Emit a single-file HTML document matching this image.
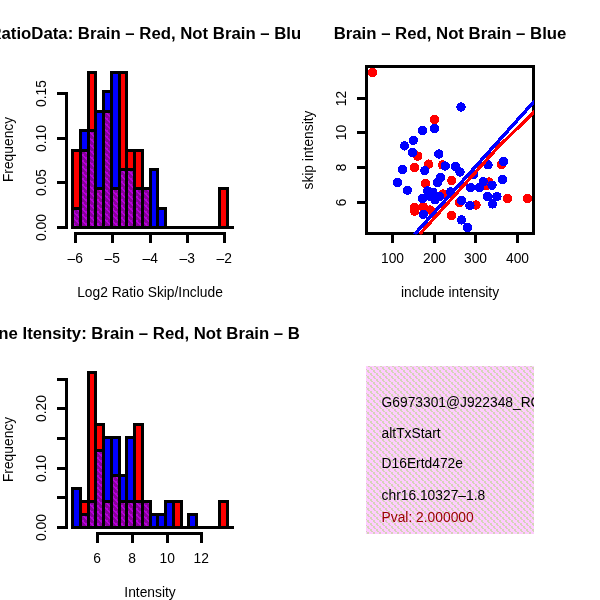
<!DOCTYPE html>
<html lang="en"><head><meta charset="utf-8"><title>Brain vs Not Brain</title>
<style>html,body{margin:0;padding:0;background:#fff;}svg{display:block;}text{font-family:"Liberation Sans", sans-serif;fill:#000;}.ax{font-size:13.8px;}.ti{font-size:16.75px;font-weight:bold;}.ln{stroke:#000;stroke-width:3;fill:none;stroke-linecap:butt;stroke-linejoin:miter;}</style></head><body>
<svg width="600" height="600" viewBox="0 0 600 600">
<defs>
<pattern id="pur" x="0" y="0" width="6" height="6" patternUnits="userSpaceOnUse"><rect width="6" height="6" fill="#88009c"/><rect x="4" y="4" width="1" height="1" fill="#b600da"/><rect x="5" y="4" width="1" height="1" fill="#b600da"/><rect x="4" y="5" width="1" height="1" fill="#b600da"/><rect x="5" y="5" width="1" height="1" fill="#b600da"/><rect x="5" y="0" width="1" height="1" fill="#b600da"/><rect x="0" y="0" width="1" height="1" fill="#b600da"/><rect x="3" y="4" width="1" height="1" fill="#b600da"/><rect x="1" y="1" width="1" height="1" fill="#b600da"/><rect x="2" y="1" width="1" height="1" fill="#b600da"/><rect x="1" y="2" width="1" height="1" fill="#b600da"/><rect x="2" y="2" width="1" height="1" fill="#b600da"/><rect x="2" y="3" width="1" height="1" fill="#b600da"/><rect x="3" y="3" width="1" height="1" fill="#b600da"/><rect x="0" y="1" width="1" height="1" fill="#b600da"/></pattern>
<pattern id="pnk" x="0" y="0" width="6" height="6" patternUnits="userSpaceOnUse"><rect width="6" height="6" fill="#ffccff"/><rect x="4" y="1" width="1" height="1" fill="#d4d4b8"/><rect x="5" y="1" width="1" height="1" fill="#d4d4b8"/><rect x="4" y="2" width="1" height="1" fill="#d4d4b8"/><rect x="5" y="2" width="1" height="1" fill="#d4d4b8"/><rect x="5" y="3" width="1" height="1" fill="#d4d4b8"/><rect x="0" y="3" width="1" height="1" fill="#d4d4b8"/><rect x="1" y="4" width="1" height="1" fill="#d4d4b8"/><rect x="2" y="4" width="1" height="1" fill="#d4d4b8"/><rect x="1" y="5" width="1" height="1" fill="#d4d4b8"/><rect x="2" y="5" width="1" height="1" fill="#d4d4b8"/><rect x="2" y="0" width="1" height="1" fill="#d4d4b8"/><rect x="3" y="0" width="1" height="1" fill="#d4d4b8"/></pattern>
<clipPath id="c1"><rect x="0" y="0" width="300" height="300"/></clipPath>
<clipPath id="c2"><rect x="300" y="0" width="300" height="300"/></clipPath>
<clipPath id="c3"><rect x="0" y="300" width="300" height="300"/></clipPath>
<clipPath id="c4"><rect x="366" y="366" width="168" height="168"/></clipPath>
<clipPath id="cs"><rect x="366" y="66" width="168" height="168.4"/></clipPath>
</defs>
<rect x="0" y="0" width="600" height="600" fill="#fff"/>
<g clip-path="url(#c1)">
<text class="ti" x="150" y="38.7" text-anchor="middle">RatioData: Brain – Red, Not Brain – Blue</text>
</g>
<g shape-rendering="crispEdges">
<line x1="71.0" y1="227.5" x2="234.0" y2="227.5" stroke="#000" stroke-width="3"/>
<rect x="72.5" y="150.5" width="8.0" height="77.0" fill="#ff0000" stroke="#000" stroke-width="3"/>
<rect x="80.5" y="150.5" width="8.0" height="77.0" fill="#ff0000" stroke="#000" stroke-width="3"/>
<rect x="88.5" y="72.5" width="7.0" height="155.0" fill="#ff0000" stroke="#000" stroke-width="3"/>
<rect x="95.5" y="188.5" width="8.0" height="39.0" fill="#ff0000" stroke="#000" stroke-width="3"/>
<rect x="103.5" y="111.5" width="8.0" height="116.0" fill="#ff0000" stroke="#000" stroke-width="3"/>
<rect x="111.5" y="188.5" width="8.0" height="39.0" fill="#ff0000" stroke="#000" stroke-width="3"/>
<rect x="119.5" y="72.5" width="7.0" height="155.0" fill="#ff0000" stroke="#000" stroke-width="3"/>
<rect x="126.5" y="150.5" width="8.0" height="77.0" fill="#ff0000" stroke="#000" stroke-width="3"/>
<rect x="134.5" y="150.5" width="8.0" height="77.0" fill="#ff0000" stroke="#000" stroke-width="3"/>
<rect x="142.5" y="188.5" width="8.0" height="39.0" fill="#ff0000" stroke="#000" stroke-width="3"/>
<rect x="219.5" y="188.5" width="8.0" height="39.0" fill="#ff0000" stroke="#000" stroke-width="3"/>
<rect x="72.5" y="208.5" width="8.0" height="19.0" fill="#0000ff" stroke="#000" stroke-width="3"/>
<rect x="80.5" y="130.5" width="8.0" height="97.0" fill="#0000ff" stroke="#000" stroke-width="3"/>
<rect x="88.5" y="130.5" width="7.0" height="97.0" fill="#0000ff" stroke="#000" stroke-width="3"/>
<rect x="95.5" y="111.5" width="8.0" height="116.0" fill="#0000ff" stroke="#000" stroke-width="3"/>
<rect x="103.5" y="91.5" width="8.0" height="136.0" fill="#0000ff" stroke="#000" stroke-width="3"/>
<rect x="111.5" y="72.5" width="8.0" height="155.0" fill="#0000ff" stroke="#000" stroke-width="3"/>
<rect x="119.5" y="169.5" width="7.0" height="58.0" fill="#0000ff" stroke="#000" stroke-width="3"/>
<rect x="126.5" y="169.5" width="8.0" height="58.0" fill="#0000ff" stroke="#000" stroke-width="3"/>
<rect x="134.5" y="188.5" width="8.0" height="39.0" fill="#0000ff" stroke="#000" stroke-width="3"/>
<rect x="142.5" y="188.5" width="8.0" height="39.0" fill="#0000ff" stroke="#000" stroke-width="3"/>
<rect x="150.5" y="169.5" width="7.0" height="58.0" fill="#0000ff" stroke="#000" stroke-width="3"/>
<rect x="157.5" y="208.5" width="8.0" height="19.0" fill="#0000ff" stroke="#000" stroke-width="3"/>
<rect x="72.5" y="208.5" width="8.0" height="19.0" fill="url(#pur)" stroke="#000" stroke-width="3"/>
<rect x="80.5" y="150.5" width="8.0" height="77.0" fill="url(#pur)" stroke="#000" stroke-width="3"/>
<rect x="88.5" y="130.5" width="7.0" height="97.0" fill="url(#pur)" stroke="#000" stroke-width="3"/>
<rect x="95.5" y="188.5" width="8.0" height="39.0" fill="url(#pur)" stroke="#000" stroke-width="3"/>
<rect x="103.5" y="111.5" width="8.0" height="116.0" fill="url(#pur)" stroke="#000" stroke-width="3"/>
<rect x="111.5" y="188.5" width="8.0" height="39.0" fill="url(#pur)" stroke="#000" stroke-width="3"/>
<rect x="119.5" y="169.5" width="7.0" height="58.0" fill="url(#pur)" stroke="#000" stroke-width="3"/>
<rect x="126.5" y="169.5" width="8.0" height="58.0" fill="url(#pur)" stroke="#000" stroke-width="3"/>
<rect x="134.5" y="188.5" width="8.0" height="39.0" fill="url(#pur)" stroke="#000" stroke-width="3"/>
<rect x="142.5" y="188.5" width="8.0" height="39.0" fill="url(#pur)" stroke="#000" stroke-width="3"/>
</g>
<path class="ln" d="M66.5,229.0 V92.0 M57,227.5 H66.5 M57,182.5 H66.5 M57,138.5 H66.5 M57,93.5 H66.5" shape-rendering="crispEdges"/>
<text class="ax" x="46" y="227.5" text-anchor="middle" transform="rotate(-90 46 227.5)">0.00</text>
<text class="ax" x="46" y="182.5" text-anchor="middle" transform="rotate(-90 46 182.5)">0.05</text>
<text class="ax" x="46" y="138.5" text-anchor="middle" transform="rotate(-90 46 138.5)">0.10</text>
<text class="ax" x="46" y="93.5" text-anchor="middle" transform="rotate(-90 46 93.5)">0.15</text>
<text class="ax" x="13.3" y="149.5" text-anchor="middle" transform="rotate(-90 13.3 149.5)">Frequency</text>
<path class="ln" d="M74.0,233.5 H226.0 M75.5,233.5 V243 M112.5,233.5 V243 M150.5,233.5 V243 M187.5,233.5 V243 M224.5,233.5 V243" shape-rendering="crispEdges"/>
<text class="ax" x="75.2" y="263" text-anchor="middle">–6</text>
<text class="ax" x="112.2" y="263" text-anchor="middle">–5</text>
<text class="ax" x="150.2" y="263" text-anchor="middle">–4</text>
<text class="ax" x="187.2" y="263" text-anchor="middle">–3</text>
<text class="ax" x="224.2" y="263" text-anchor="middle">–2</text>
<text class="ax" x="150" y="296.5" text-anchor="middle">Log2 Ratio Skip/Include</text>
<g clip-path="url(#c2)">
<text class="ti" x="450" y="38.7" text-anchor="middle">Brain – Red, Not Brain – Blue</text>
</g>
<g shape-rendering="crispEdges">
<circle cx="372.4" cy="72.4" r="4.7" fill="#ff0000"/>
<circle cx="434.5" cy="119.5" r="4.7" fill="#ff0000"/>
<circle cx="417.7" cy="156.1" r="4.7" fill="#ff0000"/>
<circle cx="414.6" cy="167.5" r="4.7" fill="#ff0000"/>
<circle cx="428.6" cy="164.1" r="4.7" fill="#ff0000"/>
<circle cx="442.5" cy="165" r="4.7" fill="#ff0000"/>
<circle cx="425.5" cy="183.4" r="4.7" fill="#ff0000"/>
<circle cx="451.8" cy="180.5" r="4.7" fill="#ff0000"/>
<circle cx="443" cy="194" r="4.7" fill="#ff0000"/>
<circle cx="414.3" cy="207.5" r="4.7" fill="#ff0000"/>
<circle cx="414.6" cy="211.2" r="4.7" fill="#ff0000"/>
<circle cx="423.2" cy="206.8" r="4.7" fill="#ff0000"/>
<circle cx="430.3" cy="210" r="4.7" fill="#ff0000"/>
<circle cx="501.5" cy="164.5" r="4.7" fill="#ff0000"/>
<circle cx="489" cy="182" r="4.7" fill="#ff0000"/>
<circle cx="486.5" cy="185.5" r="4.7" fill="#ff0000"/>
<circle cx="507.5" cy="198.5" r="4.7" fill="#ff0000"/>
<circle cx="527.5" cy="198.5" r="4.7" fill="#ff0000"/>
<circle cx="459.5" cy="202.3" r="4.7" fill="#ff0000"/>
<circle cx="476" cy="205" r="4.7" fill="#ff0000"/>
<circle cx="451.5" cy="215.5" r="4.7" fill="#ff0000"/>
<circle cx="461" cy="107" r="4.7" fill="#0000ff"/>
<circle cx="434.5" cy="128.5" r="4.7" fill="#0000ff"/>
<circle cx="422.5" cy="130.5" r="4.7" fill="#0000ff"/>
<circle cx="413.4" cy="140.3" r="4.7" fill="#0000ff"/>
<circle cx="404.5" cy="145.9" r="4.7" fill="#0000ff"/>
<circle cx="412.5" cy="152.5" r="4.7" fill="#0000ff"/>
<circle cx="438.7" cy="154" r="4.7" fill="#0000ff"/>
<circle cx="402.5" cy="169.6" r="4.7" fill="#0000ff"/>
<circle cx="424.8" cy="170.6" r="4.7" fill="#0000ff"/>
<circle cx="445.2" cy="166" r="4.7" fill="#0000ff"/>
<circle cx="397.5" cy="182.5" r="4.7" fill="#0000ff"/>
<circle cx="407.5" cy="190.2" r="4.7" fill="#0000ff"/>
<circle cx="440.5" cy="177.5" r="4.7" fill="#0000ff"/>
<circle cx="437.4" cy="182.4" r="4.7" fill="#0000ff"/>
<circle cx="427.5" cy="191" r="4.7" fill="#0000ff"/>
<circle cx="432.8" cy="192.2" r="4.7" fill="#0000ff"/>
<circle cx="422.7" cy="198.5" r="4.7" fill="#0000ff"/>
<circle cx="434.9" cy="199.8" r="4.7" fill="#0000ff"/>
<circle cx="439.7" cy="196.3" r="4.7" fill="#0000ff"/>
<circle cx="450.5" cy="192" r="4.7" fill="#0000ff"/>
<circle cx="423.3" cy="214.4" r="4.7" fill="#0000ff"/>
<circle cx="455.4" cy="166.25" r="4.7" fill="#0000ff"/>
<circle cx="460" cy="172" r="4.7" fill="#0000ff"/>
<circle cx="473.5" cy="174.5" r="4.7" fill="#0000ff"/>
<circle cx="488" cy="164.8" r="4.7" fill="#0000ff"/>
<circle cx="483.2" cy="181.6" r="4.7" fill="#0000ff"/>
<circle cx="470.6" cy="187.7" r="4.7" fill="#0000ff"/>
<circle cx="479.3" cy="187.5" r="4.7" fill="#0000ff"/>
<circle cx="492" cy="185.2" r="4.7" fill="#0000ff"/>
<circle cx="487.5" cy="196.4" r="4.7" fill="#0000ff"/>
<circle cx="497" cy="196.5" r="4.7" fill="#0000ff"/>
<circle cx="492.5" cy="204" r="4.7" fill="#0000ff"/>
<circle cx="503.5" cy="161.5" r="4.7" fill="#0000ff"/>
<circle cx="502.5" cy="179.5" r="4.7" fill="#0000ff"/>
<circle cx="461.5" cy="200.5" r="4.7" fill="#0000ff"/>
<circle cx="470" cy="205.5" r="4.7" fill="#0000ff"/>
<circle cx="461.5" cy="220" r="4.7" fill="#0000ff"/>
<circle cx="467.5" cy="227.5" r="4.7" fill="#0000ff"/>
<circle cx="429" cy="196" r="4.7" fill="#0000ff"/>
</g>
<rect class="ln" x="366.5" y="66.5" width="167" height="167" shape-rendering="crispEdges"/>
<path class="ln" d="M357,202.5 H366.5 M357,167.5 H366.5 M357,132.5 H366.5 M357,98.5 H366.5 M392.5,233.5 V243 M434.5,233.5 V243 M475.5,233.5 V243 M517.5,233.5 V243" shape-rendering="crispEdges"/>
<text class="ax" x="346.4" y="202.5" text-anchor="middle" transform="rotate(-90 346.4 202.5)">6</text>
<text class="ax" x="346.4" y="167.5" text-anchor="middle" transform="rotate(-90 346.4 167.5)">8</text>
<text class="ax" x="346.4" y="132.5" text-anchor="middle" transform="rotate(-90 346.4 132.5)">10</text>
<text class="ax" x="346.4" y="98.5" text-anchor="middle" transform="rotate(-90 346.4 98.5)">12</text>
<text class="ax" x="392.5" y="263" text-anchor="middle">100</text>
<text class="ax" x="434.5" y="263" text-anchor="middle">200</text>
<text class="ax" x="475.5" y="263" text-anchor="middle">300</text>
<text class="ax" x="517.5" y="263" text-anchor="middle">400</text>
<text class="ax" x="313.4" y="150" text-anchor="middle" transform="rotate(-90 313.4 150)">skip intensity</text>
<text class="ax" x="450" y="296.5" text-anchor="middle">include intensity</text>
<g clip-path="url(#cs)" shape-rendering="crispEdges">
<line x1="414.5" y1="234.4" x2="534.5" y2="101.1" stroke="#0000ff" stroke-width="3.5"/>
<polyline points="419.5,234.4 497,148.3 534.5,111.4" fill="none" stroke="#ff0000" stroke-width="3.4" stroke-linejoin="round"/>
</g>
<g clip-path="url(#c3)">
<text class="ti" x="150" y="338.7" text-anchor="middle">Gene Itensity: Brain – Red, Not Brain – Blue</text>
</g>
<g shape-rendering="crispEdges">
<line x1="71.0" y1="527.5" x2="234.0" y2="527.5" stroke="#000" stroke-width="3"/>
<rect x="80.5" y="501.5" width="8.0" height="26.0" fill="#ff0000" stroke="#000" stroke-width="3"/>
<rect x="88.5" y="372.5" width="7.0" height="155.0" fill="#ff0000" stroke="#000" stroke-width="3"/>
<rect x="95.5" y="424.5" width="8.0" height="103.0" fill="#ff0000" stroke="#000" stroke-width="3"/>
<rect x="103.5" y="501.5" width="8.0" height="26.0" fill="#ff0000" stroke="#000" stroke-width="3"/>
<rect x="111.5" y="475.5" width="8.0" height="52.0" fill="#ff0000" stroke="#000" stroke-width="3"/>
<rect x="119.5" y="501.5" width="7.0" height="26.0" fill="#ff0000" stroke="#000" stroke-width="3"/>
<rect x="126.5" y="501.5" width="8.0" height="26.0" fill="#ff0000" stroke="#000" stroke-width="3"/>
<rect x="134.5" y="424.5" width="8.0" height="103.0" fill="#ff0000" stroke="#000" stroke-width="3"/>
<rect x="142.5" y="501.5" width="8.0" height="26.0" fill="#ff0000" stroke="#000" stroke-width="3"/>
<rect x="173.5" y="501.5" width="8.0" height="26.0" fill="#ff0000" stroke="#000" stroke-width="3"/>
<rect x="219.5" y="501.5" width="8.0" height="26.0" fill="#ff0000" stroke="#000" stroke-width="3"/>
<rect x="72.5" y="488.5" width="8.0" height="39.0" fill="#0000ff" stroke="#000" stroke-width="3"/>
<rect x="80.5" y="514.5" width="8.0" height="13.0" fill="#0000ff" stroke="#000" stroke-width="3"/>
<rect x="88.5" y="501.5" width="7.0" height="26.0" fill="#0000ff" stroke="#000" stroke-width="3"/>
<rect x="95.5" y="450.5" width="8.0" height="77.0" fill="#0000ff" stroke="#000" stroke-width="3"/>
<rect x="103.5" y="437.5" width="8.0" height="90.0" fill="#0000ff" stroke="#000" stroke-width="3"/>
<rect x="111.5" y="437.5" width="8.0" height="90.0" fill="#0000ff" stroke="#000" stroke-width="3"/>
<rect x="119.5" y="475.5" width="7.0" height="52.0" fill="#0000ff" stroke="#000" stroke-width="3"/>
<rect x="126.5" y="437.5" width="8.0" height="90.0" fill="#0000ff" stroke="#000" stroke-width="3"/>
<rect x="134.5" y="501.5" width="8.0" height="26.0" fill="#0000ff" stroke="#000" stroke-width="3"/>
<rect x="142.5" y="501.5" width="8.0" height="26.0" fill="#0000ff" stroke="#000" stroke-width="3"/>
<rect x="150.5" y="514.5" width="7.0" height="13.0" fill="#0000ff" stroke="#000" stroke-width="3"/>
<rect x="157.5" y="514.5" width="8.0" height="13.0" fill="#0000ff" stroke="#000" stroke-width="3"/>
<rect x="165.5" y="501.5" width="8.0" height="26.0" fill="#0000ff" stroke="#000" stroke-width="3"/>
<rect x="188.5" y="514.5" width="8.0" height="13.0" fill="#0000ff" stroke="#000" stroke-width="3"/>
<rect x="80.5" y="514.5" width="8.0" height="13.0" fill="url(#pur)" stroke="#000" stroke-width="3"/>
<rect x="88.5" y="501.5" width="7.0" height="26.0" fill="url(#pur)" stroke="#000" stroke-width="3"/>
<rect x="95.5" y="450.5" width="8.0" height="77.0" fill="url(#pur)" stroke="#000" stroke-width="3"/>
<rect x="103.5" y="501.5" width="8.0" height="26.0" fill="url(#pur)" stroke="#000" stroke-width="3"/>
<rect x="111.5" y="475.5" width="8.0" height="52.0" fill="url(#pur)" stroke="#000" stroke-width="3"/>
<rect x="119.5" y="501.5" width="7.0" height="26.0" fill="url(#pur)" stroke="#000" stroke-width="3"/>
<rect x="126.5" y="501.5" width="8.0" height="26.0" fill="url(#pur)" stroke="#000" stroke-width="3"/>
<rect x="134.5" y="501.5" width="8.0" height="26.0" fill="url(#pur)" stroke="#000" stroke-width="3"/>
<rect x="142.5" y="501.5" width="8.0" height="26.0" fill="url(#pur)" stroke="#000" stroke-width="3"/>
</g>
<path class="ln" d="M66.5,529.0 V378.0 M57,527.50 H66.5 M57,497.50 H66.5 M57,468.50 H66.5 M57,438.50 H66.5 M57,408.50 H66.5 M57,379.50 H66.5" shape-rendering="crispEdges"/>
<text class="ax" x="46" y="527.5" text-anchor="middle" transform="rotate(-90 46 527.5)">0.00</text>
<text class="ax" x="46" y="468.5" text-anchor="middle" transform="rotate(-90 46 468.5)">0.10</text>
<text class="ax" x="46" y="408.5" text-anchor="middle" transform="rotate(-90 46 408.5)">0.20</text>
<text class="ax" x="13.3" y="449.5" text-anchor="middle" transform="rotate(-90 13.3 449.5)">Frequency</text>
<path class="ln" d="M96.0,533.5 H203.0 M97.5,533.5 V543 M132.5,533.5 V543 M167.5,533.5 V543 M201.5,533.5 V543" shape-rendering="crispEdges"/>
<text class="ax" x="97.2" y="563" text-anchor="middle">6</text>
<text class="ax" x="132.2" y="563" text-anchor="middle">8</text>
<text class="ax" x="167.2" y="563" text-anchor="middle">10</text>
<text class="ax" x="201.2" y="563" text-anchor="middle">12</text>
<text class="ax" x="150" y="596.5" text-anchor="middle">Intensity</text>
<rect x="366" y="366" width="168" height="168" fill="url(#pnk)" shape-rendering="crispEdges"/>
<g clip-path="url(#c4)">
<text class="ax" x="381.6" y="407.1" text-anchor="start">G6973301@J922348_RC</text>
<text class="ax" x="381.6" y="438" text-anchor="start">altTxStart</text>
<text class="ax" x="381.6" y="468.4" text-anchor="start">D16Ertd472e</text>
<text class="ax" x="381.6" y="499.6" text-anchor="start">chr16.10327–1.8</text>
<text class="ax" x="381.6" y="522.2" text-anchor="start" style="fill:#990000">Pval: 2.000000</text>
</g>
</svg></body></html>
